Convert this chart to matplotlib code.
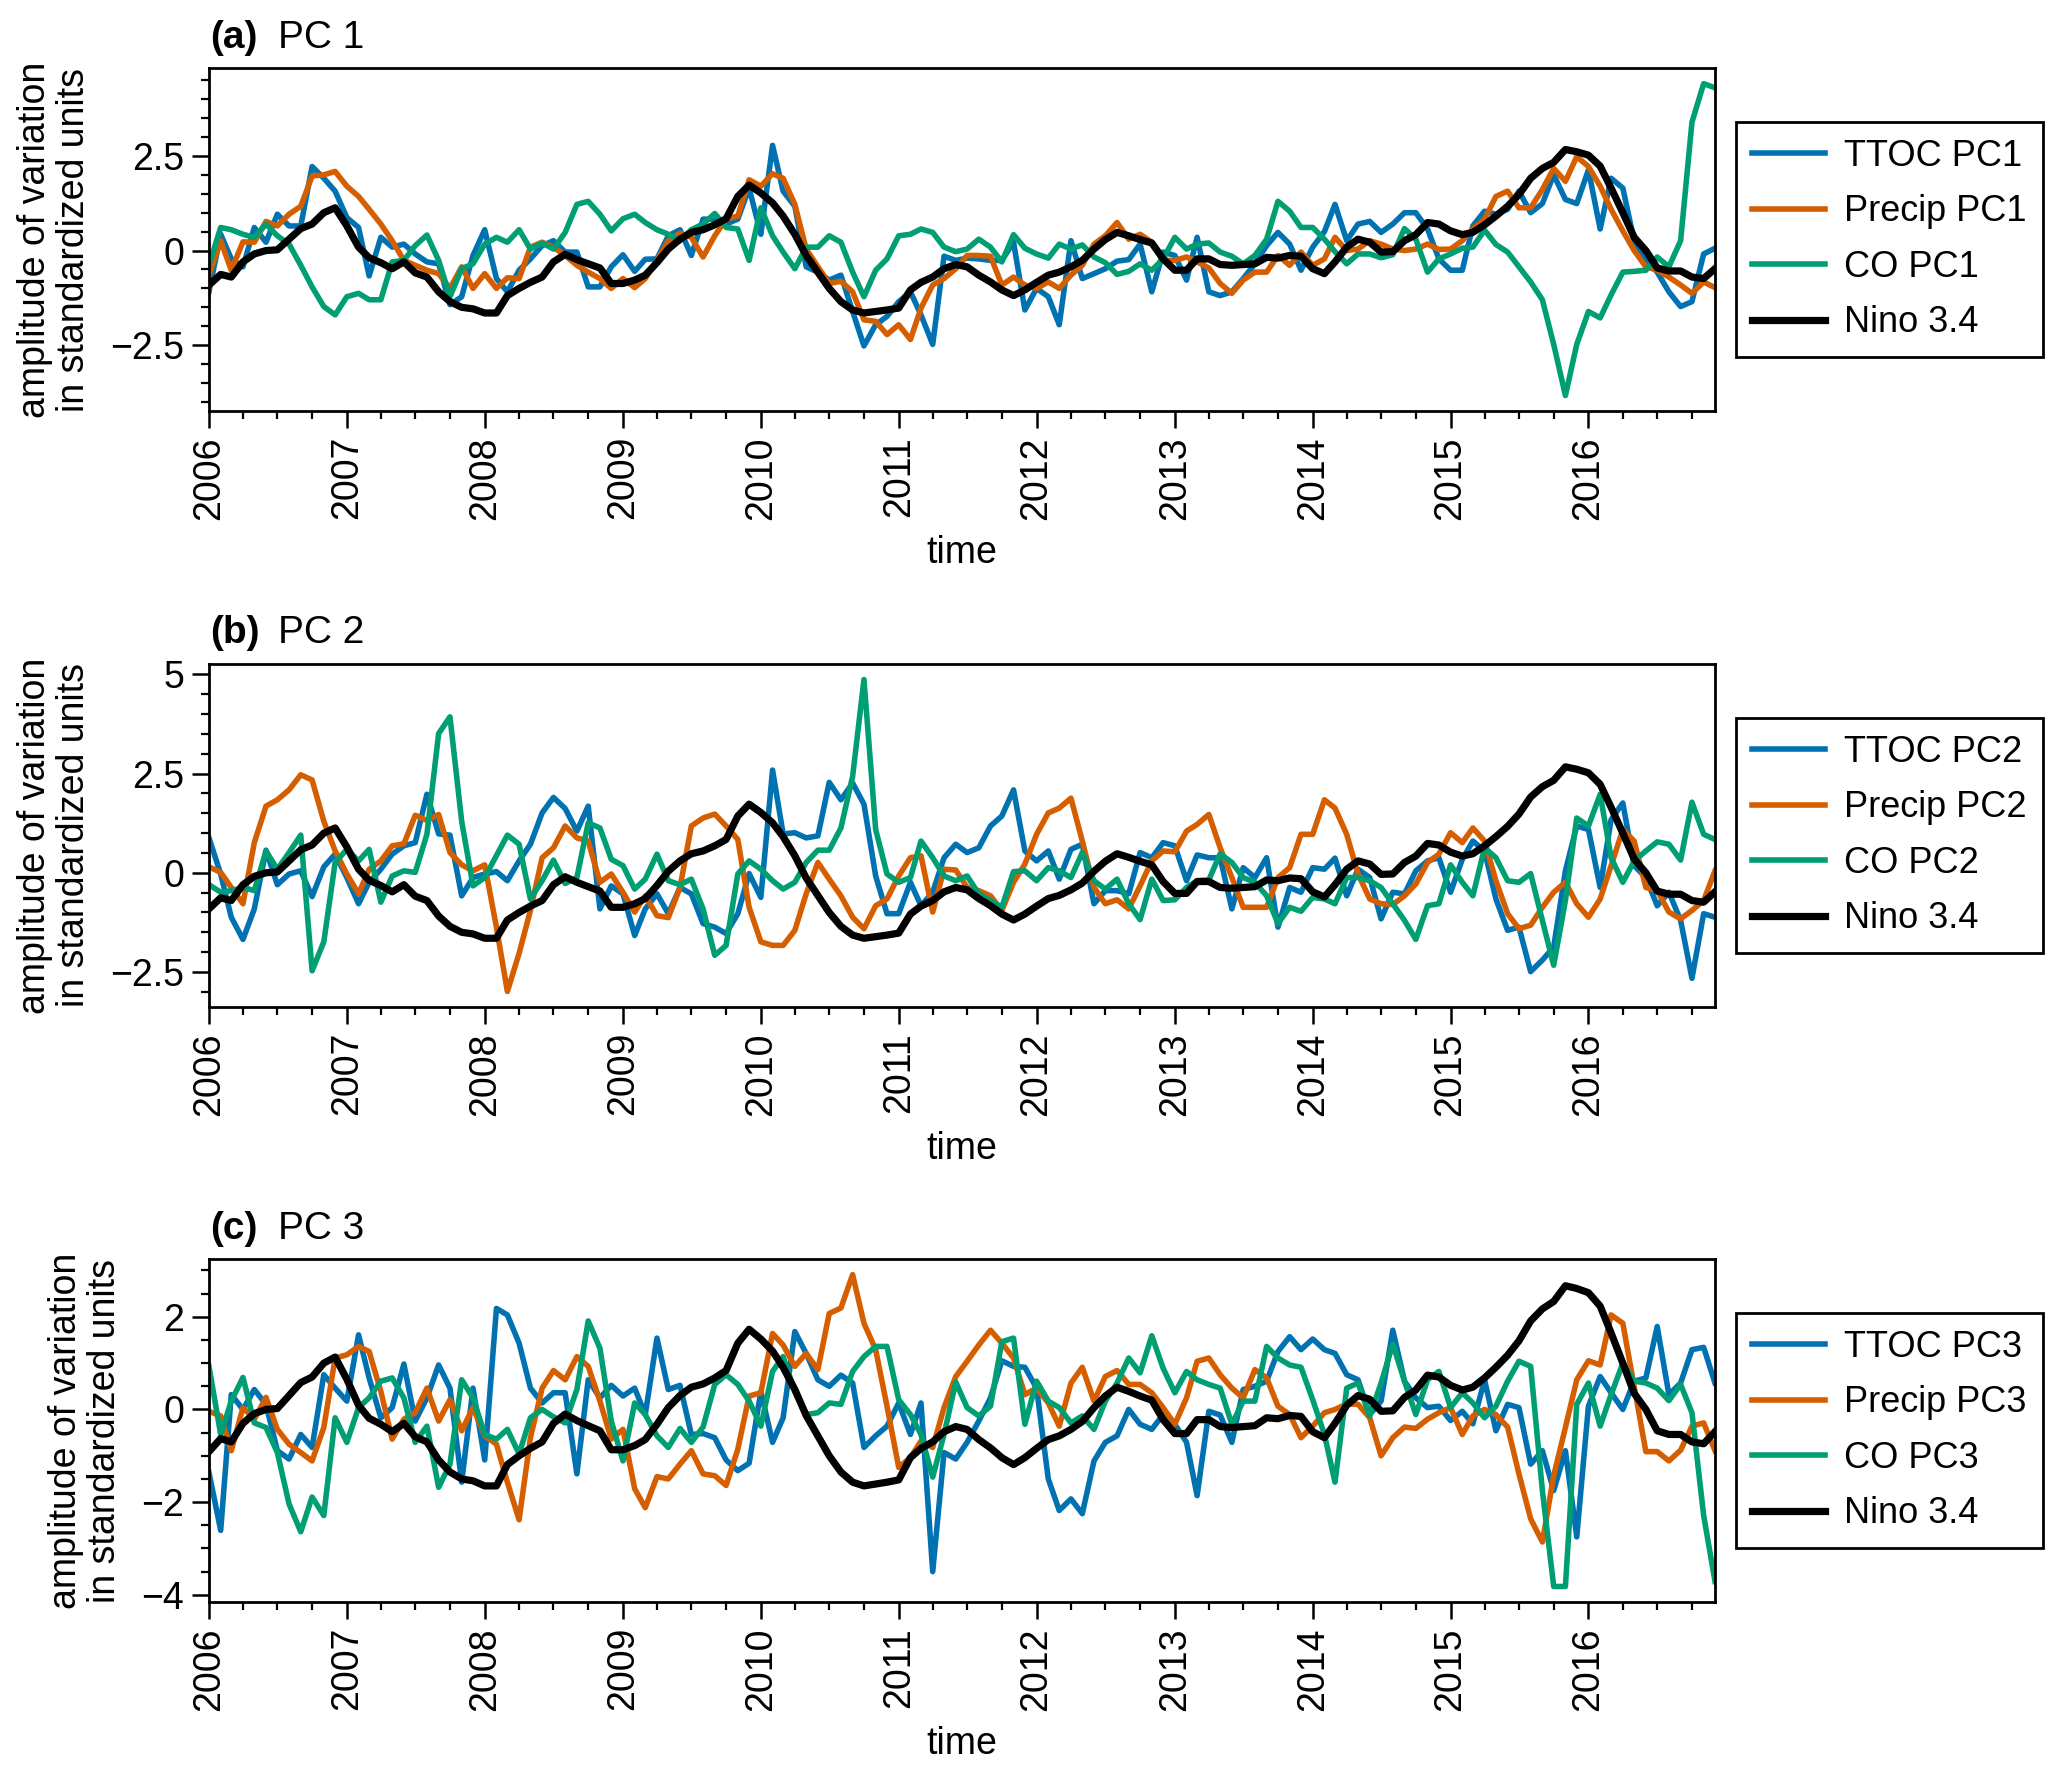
import numpy as np
import pandas as pd
import matplotlib
matplotlib.use("Agg")
import matplotlib.pyplot as plt
import matplotlib.dates as mdates
from matplotlib.ticker import MultipleLocator, FuncFormatter

plt.rcParams['font.family'] = ['Liberation Sans', 'DejaVu Sans']

# monthly time axis, Jan 2006 - Dec 2016
months = pd.date_range("2006-01-01", periods=132, freq="MS")

nino34 = [
    -0.91, -0.63, -0.70, -0.30, -0.09, 0.00, 0.02, 0.30, 0.58, 0.70, 1.00, 1.13,
    0.65, 0.09, -0.19, -0.32, -0.48, -0.30, -0.59, -0.70, -1.09, -1.35, -1.50, -1.54,
    -1.65, -1.65, -1.19, -1.00, -0.84, -0.70, -0.30, -0.10, -0.24, -0.35, -0.46, -0.87,
    -0.87, -0.78, -0.65, -0.32, 0.04, 0.30, 0.48, 0.55, 0.68, 0.84, 1.43, 1.73,
    1.52, 1.26, 0.91, 0.43, -0.13, -0.57, -1.00, -1.35, -1.57, -1.65, -1.61, -1.57,
    -1.52, -1.04, -0.84, -0.70, -0.48, -0.37, -0.43, -0.65, -0.83, -1.04, -1.19, -1.04,
    -0.84, -0.65, -0.57, -0.43, -0.26, 0.04, 0.29, 0.48, 0.39, 0.29, 0.20, -0.22,
    -0.52, -0.52, -0.22, -0.22, -0.37, -0.39, -0.37, -0.35, -0.18, -0.20, -0.13, -0.15,
    -0.48, -0.61, -0.30, 0.09, 0.30, 0.22, -0.04, -0.03, 0.26, 0.42, 0.74, 0.70,
    0.52, 0.42, 0.48, 0.68, 0.91, 1.17, 1.48, 1.91, 2.17, 2.33, 2.67, 2.61,
    2.52, 2.23, 1.65, 1.00, 0.35, 0.00, -0.46, -0.54, -0.54, -0.70, -0.74, -0.48,
]

ttoc_pc1 = [
    -1.09, 0.43, -0.22, -0.43, 0.61, 0.22, 0.96, 0.65, 0.65, 2.22, 1.91, 1.57,
    0.87, 0.61, -0.67, 0.35, 0.09, 0.17, -0.09, -0.30, -0.35, -1.43, -1.22, -0.13,
    0.55, -0.74, -1.09, -0.52, -0.22, 0.13, 0.26, -0.04, -0.04, -0.96, -0.96, -0.43,
    -0.11, -0.55, -0.23, -0.22, 0.39, 0.55, -0.13, 0.83, 0.83, 0.70, 0.83, 1.65,
    0.43, 2.78, 1.57, 1.17, -0.43, -0.57, -0.78, -0.65, -1.61, -2.52, -1.96, -1.74,
    -1.35, -1.09, -1.70, -2.48, -0.15, -0.26, -0.20, -0.22, -0.26, -0.26, 0.22, -1.57,
    -1.00, -1.22, -1.96, 0.26, -0.74, -0.61, -0.48, -0.28, -0.24, 0.17, -1.09, -0.04,
    -0.13, -0.78, 0.35, -1.09, -1.19, -1.09, -0.74, -0.35, 0.13, 0.48, 0.17, -0.52,
    0.09, 0.50, 1.22, 0.26, 0.70, 0.77, 0.48, 0.70, 1.00, 1.00, 0.57, -0.22,
    -0.52, -0.52, 0.65, 1.04, 0.96, 1.09, 1.57, 1.00, 1.24, 2.00, 1.35, 1.24,
    2.13, 0.57, 1.91, 1.65, 0.26, -0.22, -0.57, -1.09, -1.48, -1.35, -0.09, 0.06,
]

precip_pc1 = [
    -0.65, 0.26, -0.52, 0.23, 0.22, 0.77, 0.65, 0.96, 1.17, 1.97, 2.00, 2.09,
    1.70, 1.43, 1.09, 0.70, 0.26, -0.26, -0.39, -0.52, -0.61, -1.00, -0.43, -1.00,
    -0.61, -1.00, -0.72, -0.74, 0.09, 0.22, 0.09, -0.13, -0.39, -0.57, -0.74, -1.00,
    -0.74, -0.98, -0.74, -0.26, 0.26, 0.46, 0.35, -0.17, 0.39, 0.83, 0.91, 1.87,
    1.70, 2.03, 1.91, 1.22, 0.04, -0.43, -0.87, -0.81, -1.09, -1.83, -1.87, -2.22,
    -1.96, -2.35, -1.52, -0.91, -0.74, -0.48, -0.13, -0.13, -0.15, -0.91, -0.70, -0.91,
    -1.00, -0.83, -1.00, -0.65, -0.39, 0.17, 0.39, 0.74, 0.30, 0.43, 0.22, -0.26,
    -0.26, -0.17, -0.30, -0.46, -0.87, -1.13, -0.78, -0.57, -0.57, -0.13, -0.39, -0.04,
    -0.39, -0.22, 0.35, 0.00, 0.04, 0.26, 0.17, 0.04, 0.00, 0.04, 0.17, 0.03,
    0.04, 0.26, 0.57, 0.83, 1.43, 1.57, 1.13, 1.13, 1.61, 2.17, 1.83, 2.48,
    2.22, 1.70, 1.09, 0.52, 0.00, -0.43, -0.52, -0.70, -0.91, -1.13, -0.83, -0.98,
]

co_pc1 = [
    -0.39, 0.61, 0.55, 0.43, 0.35, 0.70, 0.39, 0.17, -0.39, -0.96, -1.48, -1.70,
    -1.22, -1.13, -1.30, -1.30, -0.30, -0.26, 0.13, 0.41, -0.26, -1.22, -0.48, -0.35,
    0.17, 0.35, 0.22, 0.55, 0.04, 0.20, 0.04, 0.48, 1.22, 1.30, 0.96, 0.52,
    0.84, 0.96, 0.74, 0.55, 0.43, 0.26, 0.55, 0.70, 0.98, 0.61, 0.57, -0.26,
    1.13, 0.39, -0.04, -0.48, 0.09, 0.09, 0.39, 0.22, -0.57, -1.22, -0.52, -0.22,
    0.39, 0.43, 0.57, 0.48, 0.09, -0.03, 0.04, 0.30, 0.09, -0.30, 0.42, 0.06,
    -0.09, -0.20, 0.17, 0.04, 0.15, -0.17, -0.32, -0.63, -0.55, -0.35, -0.52, -0.22,
    0.35, 0.04, 0.17, 0.20, -0.04, -0.15, -0.35, -0.13, 0.30, 1.30, 1.04, 0.61,
    0.61, 0.30, -0.03, -0.35, -0.09, -0.09, -0.19, -0.11, 0.58, 0.30, -0.57, -0.22,
    -0.09, 0.06, 0.09, 0.54, 0.16, -0.04, -0.43, -0.83, -1.30, -2.48, -3.83, -2.48,
    -1.61, -1.78, -1.17, -0.57, -0.55, -0.52, -0.17, -0.43, 0.26, 3.39, 4.41, 4.30,
]

ttoc_pc2 = [
    0.88, -0.03, -1.12, -1.68, -0.91, 0.57, -0.30, -0.03, 0.05, -0.60, 0.15, 0.47,
    -0.12, -0.78, -0.24, 0.09, 0.47, 0.68, 0.76, 1.98, 0.98, 0.95, -0.58, -0.12,
    -0.03, 0.03, -0.20, 0.30, 0.72, 1.51, 1.90, 1.62, 1.05, 1.68, -0.91, -0.33,
    -0.53, -1.58, -0.91, -0.53, -1.03, -0.37, -0.53, -1.28, -1.37, -1.53, -1.03, -0.02,
    -0.62, 2.59, 0.98, 1.01, 0.88, 0.93, 2.28, 1.84, 2.26, 1.73, -0.08, -1.03,
    -1.03, -0.24, -0.83, -0.49, 0.38, 0.72, 0.51, 0.63, 1.18, 1.43, 2.09, 0.55,
    0.30, 0.55, -0.16, 0.59, 0.72, -0.78, -0.45, -0.45, -0.53, 0.51, 0.38, 0.76,
    0.68, -0.20, 0.45, 0.38, 0.38, -0.91, 0.13, -0.12, 0.38, -1.37, -0.37, -0.49,
    0.13, 0.09, 0.37, -0.58, 0.09, -0.12, -1.16, -0.49, -0.53, 0.05, 0.30, 0.38,
    -0.49, 0.34, 0.80, 0.55, -0.66, -1.45, -1.37, -2.49, -2.20, -1.87, 0.05, 1.18,
    1.09, -0.37, 1.34, 1.76, 0.18, -0.12, -0.83, -0.49, -1.20, -2.66, -1.03, -1.12,
]

precip_pc2 = [
    0.15, 0.01, -0.37, -0.78, 0.76, 1.68, 1.84, 2.09, 2.47, 2.34, 1.30, 0.55,
    -0.03, -0.53, 0.09, 0.30, 0.68, 0.73, 1.45, 1.32, 1.47, 0.51, 0.20, 0.05,
    0.20, -1.37, -2.99, -2.03, -0.95, 0.38, 0.63, 1.18, 0.88, 0.80, -0.24, -0.03,
    -0.49, -0.99, -0.58, -1.08, -1.13, -0.37, 1.18, 1.38, 1.48, 1.18, 0.84, -0.87,
    -1.74, -1.83, -1.83, -1.45, -0.53, 0.26, -0.16, -0.58, -1.12, -1.41, -0.83, -0.66,
    -0.08, 0.38, 0.43, -0.99, 0.09, 0.07, -0.37, -0.45, -0.58, -0.95, -0.24, 0.22,
    0.97, 1.51, 1.63, 1.88, 0.80, -0.37, -0.78, -0.68, -0.91, -0.33, 0.30, 0.55,
    0.53, 1.05, 1.22, 1.47, 0.63, -0.12, -0.87, -0.87, -0.87, -0.12, 0.13, 0.97,
    0.97, 1.84, 1.63, 0.97, -0.03, -0.66, -0.78, -0.80, -0.58, -0.28, 0.26, 0.47,
    1.01, 0.76, 1.13, 0.80, -0.20, -1.03, -1.41, -1.32, -0.87, -0.49, -0.24, -0.78,
    -1.12, -0.66, 0.18, 1.09, 0.80, -0.37, -0.45, -0.99, -1.16, -0.95, -0.70, 0.05,
]

co_pc2 = [
    -0.30, -0.49, -0.45, -0.37, -0.45, 0.55, 0.09, 0.51, 0.95, -2.47, -1.74, 0.26,
    0.59, 0.30, 0.59, -0.74, -0.08, 0.05, 0.01, 0.97, 3.51, 3.93, 1.30, -0.33,
    -0.12, 0.43, 0.95, 0.72, -0.66, -0.20, 0.32, -0.27, -0.12, 1.26, 1.13, 0.34,
    0.18, -0.41, -0.16, 0.47, -0.20, -0.30, -0.16, -0.91, -2.08, -1.83, -0.03, 0.30,
    0.09, -0.20, -0.41, -0.24, 0.26, 0.57, 0.57, 1.13, 2.43, 4.87, 1.09, -0.03,
    -0.24, -0.12, 0.80, 0.38, -0.08, -0.20, -0.08, -0.53, -0.70, -0.87, 0.03, 0.05,
    -0.20, 0.13, 0.05, -0.12, 0.51, -0.20, -0.41, -0.16, -0.78, -1.18, -0.16, -0.70,
    -0.68, -0.37, -0.20, -0.18, 0.48, 0.26, -0.12, -0.24, -0.58, -1.28, -0.87, -0.97,
    -0.62, -0.66, -0.78, -0.12, -0.12, -0.20, -0.37, -0.78, -1.20, -1.68, -0.83, -0.78,
    0.20, -0.24, -0.58, 0.63, 0.38, -0.20, -0.24, -0.02, -1.20, -2.33, -0.70, 1.38,
    1.18, 1.98, 0.38, -0.24, 0.30, 0.55, 0.78, 0.72, 0.32, 1.78, 0.97, 0.84,
]

ttoc_pc3 = [
    -1.36, -2.61, 0.32, 0.00, 0.43, 0.11, -0.89, -1.07, -0.54, -0.82, 0.75, 0.46,
    0.18, 1.61, 0.68, -0.18, 0.04, 0.98, -0.25, 0.25, 0.96, 0.46, -1.57, 0.46,
    -1.09, 2.18, 2.04, 1.43, 0.46, 0.14, 0.36, 0.36, -1.39, 0.64, 0.25, 0.52,
    0.29, 0.46, -0.11, 1.54, 0.43, 0.52, -0.54, -0.52, -0.61, -1.09, -1.32, -1.16,
    0.39, -0.71, -0.18, 1.68, 1.21, 0.64, 0.50, 0.74, 0.57, -0.82, -0.57, -0.36,
    0.14, -0.54, 0.14, -3.50, -0.93, -1.07, -0.71, -0.25, 0.25, 1.05, 0.93, 0.91,
    0.46, -1.50, -2.18, -1.93, -2.25, -1.11, -0.71, -0.57, 0.00, -0.32, -0.43, -0.11,
    -0.32, -0.71, -1.86, -0.04, -0.12, -0.71, 0.43, 0.50, 0.61, 1.25, 1.57, 1.29,
    1.52, 1.29, 1.21, 0.75, 0.64, -0.11, 0.18, 1.71, 0.61, 0.25, 0.04, 0.07,
    -0.24, -0.04, -0.31, 0.64, -0.46, 0.11, 0.04, -1.18, -0.89, -1.75, -0.89, -2.75,
    0.07, 0.71, 0.36, 0.00, 0.61, 0.68, 1.79, 0.32, 0.57, 1.29, 1.34, 0.57,
]

precip_pc3 = [
    -0.04, -0.14, -0.89, 0.04, -0.21, 0.26, -0.43, -0.75, -0.93, -1.11, -0.39, 1.11,
    1.18, 1.36, 1.25, 0.39, -0.64, -0.21, -0.07, 0.46, -0.25, 0.21, -0.46, 0.04,
    -0.57, -0.75, -1.57, -2.38, -0.61, 0.46, 0.84, 0.64, 1.14, 0.93, 0.18, -0.64,
    -0.43, -1.71, -2.12, -1.45, -1.50, -1.18, -0.89, -1.39, -1.43, -1.64, -0.86, 0.29,
    0.36, 1.64, 1.39, 0.93, 1.21, 0.86, 2.07, 2.19, 2.91, 1.86, 1.29, 0.07,
    -1.25, -1.04, -0.68, -0.82, 0.04, 0.71, 1.04, 1.39, 1.71, 1.43, 1.11, 0.32,
    0.46, 0.14, -0.36, 0.57, 0.91, 0.18, 0.71, 0.84, 0.54, 0.54, 0.36, 0.04,
    -0.32, 0.25, 1.04, 1.11, 0.75, 0.46, 0.25, 0.86, 0.68, 0.07, -0.11, -0.61,
    -0.36, -0.07, 0.00, 0.12, 0.11, -0.18, -1.00, -0.61, -0.38, -0.41, -0.21, -0.07,
    0.04, -0.54, -0.14, 0.00, -0.11, -0.38, -1.39, -2.36, -2.86, -1.43, -0.39, 0.64,
    1.05, 0.96, 2.04, 1.86, 0.50, -0.91, -0.91, -1.11, -0.88, -0.36, -0.29, -0.89,
]

co_pc3 = [
    0.93, -0.54, 0.18, 0.69, -0.29, -0.39, -0.93, -2.04, -2.64, -1.89, -2.29, -0.18,
    -0.71, 0.04, 0.25, 0.61, 0.68, 0.25, -0.71, -0.36, -1.68, -1.18, 0.64, 0.25,
    -0.54, -0.64, -0.43, -0.96, -0.18, 0.00, -0.16, -0.29, 0.43, 1.91, 1.32, -0.25,
    -1.11, 0.14, -0.11, -0.57, -0.82, -0.41, -0.71, -0.38, 0.54, 0.75, 0.54, 0.18,
    -0.36, 0.82, 1.14, 0.39, -0.11, -0.07, 0.14, 0.11, 0.82, 1.14, 1.36, 1.36,
    0.21, -0.11, -0.54, -1.46, -0.54, 0.59, 0.04, -0.14, 0.07, 1.46, 1.54, -0.32,
    0.61, 0.18, 0.04, -0.29, -0.14, -0.43, 0.18, 0.57, 1.11, 0.79, 1.59, 0.89,
    0.36, 0.82, 0.64, 0.54, 0.46, -0.32, 0.18, 0.18, 1.36, 1.11, 0.96, 0.91,
    0.21, -0.54, -1.57, 0.46, 0.57, -0.14, 0.57, 1.41, 0.61, -0.11, 0.64, 0.82,
    0.04, 0.36, 0.14, -0.18, 0.07, 0.61, 1.04, 0.93, -1.75, -3.82, -3.82, 0.11,
    0.57, -0.36, 0.32, 1.00, 0.61, 0.57, 0.46, 0.19, 0.54, -0.07, -2.29, -3.71,
]

panels = [
    ("(a)", "PC 1", ttoc_pc1, precip_pc1, co_pc1, 2.5),
    ("(b)", "PC 2", ttoc_pc2, precip_pc2, co_pc2, 2.5),
    ("(c)", "PC 3", ttoc_pc3, precip_pc3, co_pc3, 2.0),
]

colors = ["#0072B2", "#D55E00", "#009E73"]
fs = 13.5


def fmt(v, pos):
    s = "{:g}".format(round(v, 6))
    return s.replace("-", "\u2212")


fig = plt.figure(figsize=(10.335, 8.86), dpi=200)
left, width, height = 0.1011, 0.7286, 0.1936
bottoms = [0.768, 0.4317, 0.0959]

for (tag, name, ttoc, precip, co, major), b in zip(panels, bottoms):
    ax = fig.add_axes([left, b, width, height])
    num = name.split()[-1]
    ax.plot(months, ttoc, color=colors[0], lw=2.0, label="TTOC PC" + num)
    ax.plot(months, precip, color=colors[1], lw=2.0, label="Precip PC" + num)
    ax.plot(months, co, color=colors[2], lw=2.0, label="CO PC" + num)
    ax.plot(months, nino34, color="black", lw=2.6, label="Nino 3.4")
    ax.set_xlim(months[0], months[-1])
    ax.margins(y=0.05)

    ax.xaxis.set_major_locator(mdates.YearLocator())
    ax.xaxis.set_major_formatter(mdates.DateFormatter("%Y"))
    ax.xaxis.set_minor_locator(mdates.MonthLocator(bymonth=[1, 4, 7, 10]))
    ax.yaxis.set_major_locator(MultipleLocator(major))
    ax.yaxis.set_minor_locator(MultipleLocator(0.5))
    ax.yaxis.set_major_formatter(FuncFormatter(fmt))
    ax.tick_params(which="major", direction="out", length=6, width=0.9,
                   labelsize=fs, pad=3)
    ax.tick_params(which="minor", direction="out", length=3, width=0.8)
    ax.tick_params(axis="x", labelrotation=90)
    for sp in ax.spines.values():
        sp.set_linewidth(1.0)

    ax.set_xlabel("time", fontsize=fs, labelpad=5.5)
    ax.set_ylabel("amplitude of variation\nin standardized units", fontsize=fs,
                  linespacing=1.12, labelpad=6.5)

    ax.annotate(tag, xy=(0, 1), xycoords="axes fraction", xytext=(0.5, 4.5),
                textcoords="offset points", fontsize=fs + 0.5, fontweight="bold",
                va="bottom", ha="left")
    ax.annotate(name, xy=(0, 1), xycoords="axes fraction", xytext=(25, 4.5),
                textcoords="offset points", fontsize=fs + 0.5,
                va="bottom", ha="left")

    leg = ax.legend(loc="center left", bbox_to_anchor=(1.014, 0.5), fontsize=13,
                    frameon=True, fancybox=False, edgecolor="black", framealpha=1,
                    handlelength=2.0, labelspacing=0.57, borderpad=0.45,
                    handletextpad=0.55, borderaxespad=0)
    leg.get_frame().set_linewidth(1.0)

fig.savefig("out.png", dpi=200)
